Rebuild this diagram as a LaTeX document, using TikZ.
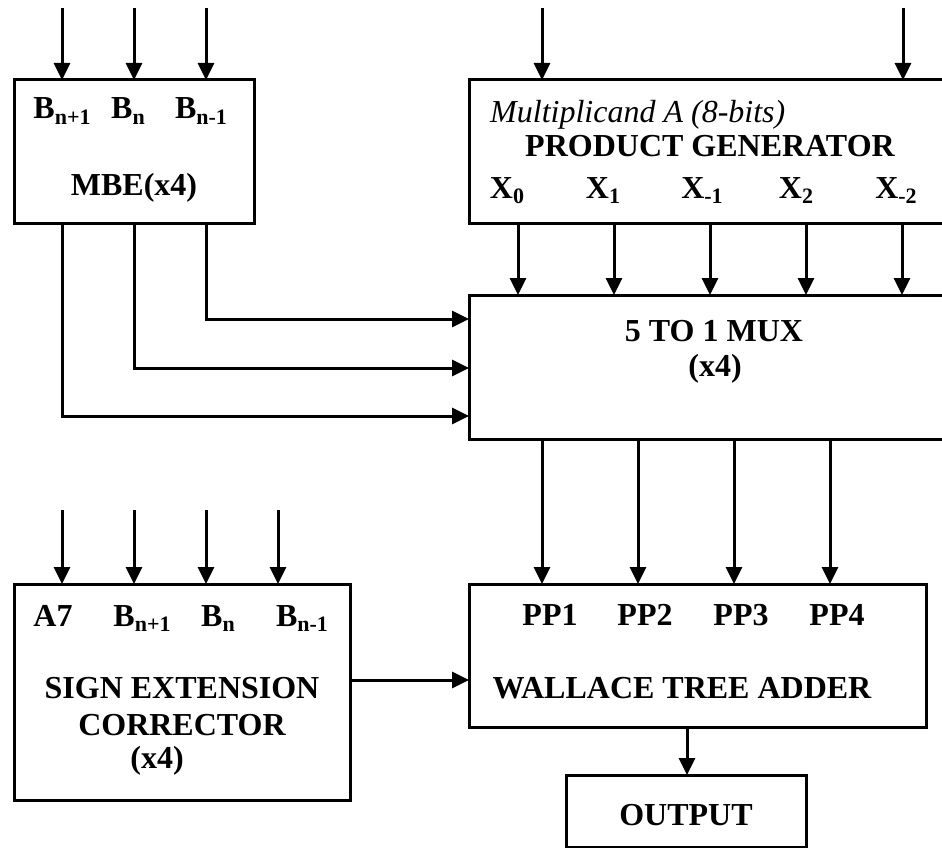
\documentclass[tikz,border=0pt]{standalone}
\usepackage{fontspec}
\setmainfont{Liberation Serif}
\usetikzlibrary{arrows.meta}
\newcommand\lowsub[1]{\raisebox{-0.16em}{\fontsize{22}{22}\selectfont #1}}
\tikzset{
  box/.style={draw, line width=3pt, anchor=north west, inner sep=0pt, outer sep=0pt},
  arr/.style={line width=3pt, -{Triangle[length=17pt,width=16pt]}},
  lbl/.style={font=\fontsize{32}{36}\selectfont\bfseries, anchor=base, inner sep=0pt},
  ilbl/.style={font=\fontsize{32}{36}\selectfont\itshape, anchor=base west, inner sep=0pt},
}
\begin{document}
\begin{tikzpicture}[x=1pt,y=-1pt]
\useasboundingbox (0,0) rectangle (942,848);
\clip (0,0) rectangle (942,848);
% boxes
\node[box, minimum width=240pt, minimum height=143pt] (mbe) at (14,80) {};
\node[box, minimum width=500pt, minimum height=143pt] (pg) at (469,80) {};
\node[box, minimum width=500pt, minimum height=144pt] (mux) at (469,295) {};
\node[box, minimum width=336pt, minimum height=216pt] (sec) at (14,584) {};
\node[box, minimum width=457pt, minimum height=143pt] (wta) at (469,584) {};
\node[box, minimum width=240pt, minimum height=72pt] (out) at (566,775) {};
% texts
\node[lbl] (mb1) at (62,119) {B\lowsub{n+1}};
\node[lbl] (mb2) at (128,119) {B\lowsub{n}};
\node[lbl] (mb3) at (201,119) {B\lowsub{n-1}};
\node[lbl] (mbt) at (134,195) {MBE(x4)};
\node[ilbl] (pgm) at (490,123) {Multiplicand A (8-bits)};
\node[lbl] (pgt) at (710,157) {PRODUCT GENERATOR};
\node[lbl] (x0) at (507,198) {X\lowsub{0}};
\node[lbl] (x1) at (603,198) {X\lowsub{1}};
\node[lbl] (xm1) at (702,198) {X\lowsub{-1}};
\node[lbl] (x2) at (796,198) {X\lowsub{2}};
\node[lbl] (xm2) at (896,198) {X\lowsub{-2}};
\node[lbl] (muxt) at (714,341) {5 TO 1 MUX};
\node[lbl] (muxn) at (715,376) {(x4)};
\node[lbl] (pp1) at (550,625) {PP1};
\node[lbl] (pp2) at (645,625) {PP2};
\node[lbl] (pp3) at (741,625) {PP3};
\node[lbl] (pp4) at (837,625) {PP4};
\node[lbl] (wtat) at (682,698) {WALLACE TREE ADDER};
\node[lbl] (outt) at (686,825) {OUTPUT};
\node[lbl] (sa7) at (53,626) {A7};
\node[lbl] (sb1) at (142,626) {B\lowsub{n+1}};
\node[lbl] (sb2) at (218,626) {B\lowsub{n}};
\node[lbl] (sb3) at (302,626) {B\lowsub{n-1}};
\node[lbl] (st1) at (182,698) {SIGN EXTENSION};
\node[lbl] (st2) at (182,735) {CORRECTOR};
\node[lbl] (st3) at (157,768) {(x4)};
% input coordinates
\coordinate (i1) at (62,8);
\coordinate (i2) at (134,8);
\coordinate (i3) at (206,8);
\coordinate (i4) at (542,8);
\coordinate (i5) at (903,8);
\coordinate (s1) at (62,510);
\coordinate (s2) at (134,510);
\coordinate (s3) at (206,510);
\coordinate (s4) at (278,510);
\foreach \c in {i1,i2,i3} \draw[arr] (\c) -- (\c |- mbe.north);
\foreach \c in {i4,i5} \draw[arr] (\c) -- (\c |- pg.north);
\foreach \c in {s1,s2,s3,s4} \draw[arr] (\c) -- (\c |- sec.north);
% PG to MUX
\foreach \x in {518,614,710,806,902} {
  \coordinate (p\x) at (\x,0);
  \draw[arr] (p\x |- pg.south) -- (p\x |- mux.north);
}
% MBE to MUX
\coordinate (m1) at (206,319);
\coordinate (m2) at (134,368);
\coordinate (m3) at (62,416);
\foreach \c in {m1,m2,m3} \draw[arr] (mbe.south -| \c) |- (mux.west |- \c);
% MUX to WTA
\foreach \x in {542,638,734,830} {
  \coordinate (q\x) at (\x,0);
  \draw[arr] (q\x |- mux.south) -- (q\x |- wta.north);
}
% SEC to WTA
\coordinate (h) at (0,680);
\draw[arr] (sec.east |- h) -- (wta.west |- h);
% WTA to OUTPUT
\coordinate (o) at (687,0);
\draw[arr] (o |- wta.south) -- (o |- out.north);
\end{tikzpicture}
\end{document}
